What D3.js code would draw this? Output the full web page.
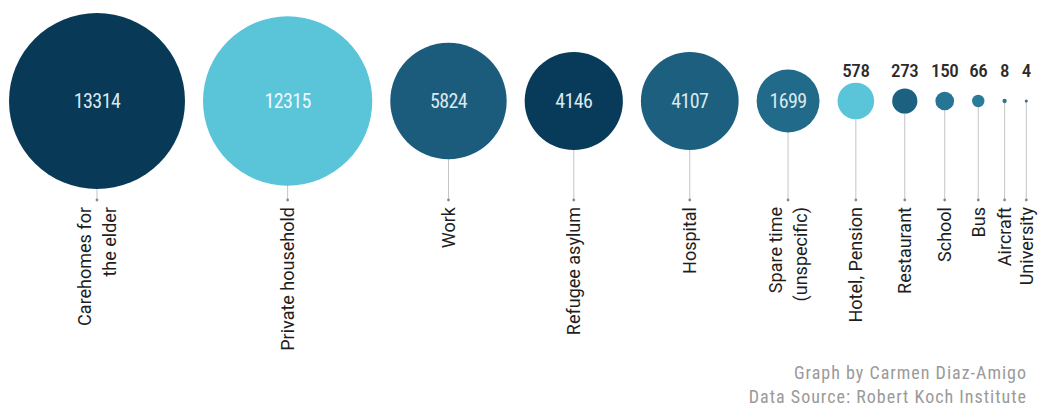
<!DOCTYPE html>
<html>
<head>
<meta charset="utf-8">
<script src="https://cdn.jsdelivr.net/npm/d3@7"></script>
<style>
  html, body { margin: 0; padding: 0; background: #ffffff; }
  svg { display: block; }
</style>
</head>
<body>
<svg id="chart" width="1041" height="407"></svg>
<script>
// Places of infection (outbreak-related cases)
const places = [
  ["Carehomes for", "the elder"],
  ["Private household"],
  ["Work"],
  ["Refugee asylum"],
  ["Hospital"],
  ["Spare time", "(unspecific)"],
  ["Hotel, Pension"],
  ["Restaurant"],
  ["School"],
  ["Bus"],
  ["Aircraft"],
  ["University"]
];
const cases = [13314, 12315, 5824, 4146, 4107, 1699, 578, 273, 150, 66, 8, 4];
const fills = ["#083a58", "#5ac4d9", "#1b5c7c", "#083b59", "#1d5f7f", "#216a89",
               "#5ac4d9", "#1d6181", "#267595", "#2a7a99", "#3c6f86", "#3c6f86"];
const credits = ["Graph by Carmen Diaz-Amigo", "Data Source: Robert Koch Institute"];

const svg = d3.select("#chart");
const numFont = "'Roboto Condensed', 'Liberation Sans Narrow', Roboto, sans-serif";
const labelFont = "Roboto, 'Noto Sans', sans-serif";

const cy = 101;          // circle centre line
const stemEnd = 200;     // where leader lines stop
const labelTop = 207;    // end of the rotated category labels
const gap = 18;          // space between neighbouring circles

const r = d3.scaleSqrt().domain([0, d3.max(cases)]).range([0, 88]);

// lay the circles out left to right, each one touching its neighbour's gap
const cx = [];
cases.forEach((v, i) => {
  if (i === 0) cx.push(9 + r(v));
  else cx.push(cx[i - 1] + r(cases[i - 1]) + gap + r(v));
});

const data = cases.map((v, i) => ({ v, i, x: cx[i], r: r(v), label: places[i], fill: fills[i] }));

// leader lines
svg.append("g").selectAll("line").data(data).join("line")
  .attr("x1", d => d.x).attr("x2", d => d.x)
  .attr("y1", cy).attr("y2", stemEnd)
  .attr("stroke", "#c4c4c4").attr("stroke-width", 1);

svg.append("g").selectAll("circle").data(data).join("circle")
  .attr("cx", d => d.x).attr("cy", stemEnd).attr("r", 1.4)
  .attr("fill", "#8a8a8a");

// bubbles
svg.append("g").selectAll("circle").data(data).join("circle")
  .attr("cx", d => d.x).attr("cy", cy).attr("r", d => d.r)
  .attr("fill", d => d.fill);

// values: inside big bubbles, above small ones
const big = d => d.r > 25;
svg.append("g").selectAll("text").data(data).join("text")
  .attr("x", d => d.x)
  .attr("y", d => big(d) ? cy : 77)
  .attr("dy", d => big(d) ? "0.36em" : 0)
  .attr("text-anchor", "middle")
  .attr("font-family", numFont)
  .attr("font-weight", d => big(d) ? 400 : 500)
  .attr("font-size", d => big(d) ? 20 : 19)
  .attr("letter-spacing", d => big(d) ? -0.6 : -0.4)
  .attr("fill", d => big(d) ? (d.fill === "#5ac4d9" ? "#eef9fb" : "#dbe8ee") : "#2b2b2b")
  .text(d => d.v);

// rotated category labels
const lab = svg.append("g").selectAll("g").data(data).join("g");
lab.each(function (d) {
  const n = d.label.length;
  d3.select(this).selectAll("text").data(d.label).join("text")
    .attr("transform", (t, j) => `translate(${d.x + (j - (n - 1) / 2) * 25},${labelTop}) rotate(-90)`)
    .attr("text-anchor", "end")
    .attr("dy", "0.36em")
    .attr("font-family", labelFont)
    .attr("font-size", 18)
    .attr("fill", "#1e1e1e")
    .text(t => t);
});

// credits
svg.append("g").selectAll("text").data(credits).join("text")
  .attr("x", 1027)
  .attr("y", (t, i) => 379 + i * 24)
  .attr("text-anchor", "end")
  .attr("font-family", numFont)
  .attr("font-size", 18)
  .attr("letter-spacing", 1)
  .attr("fill", "#9a9a9a")
  .text(t => t);
</script>
</body>
</html>
